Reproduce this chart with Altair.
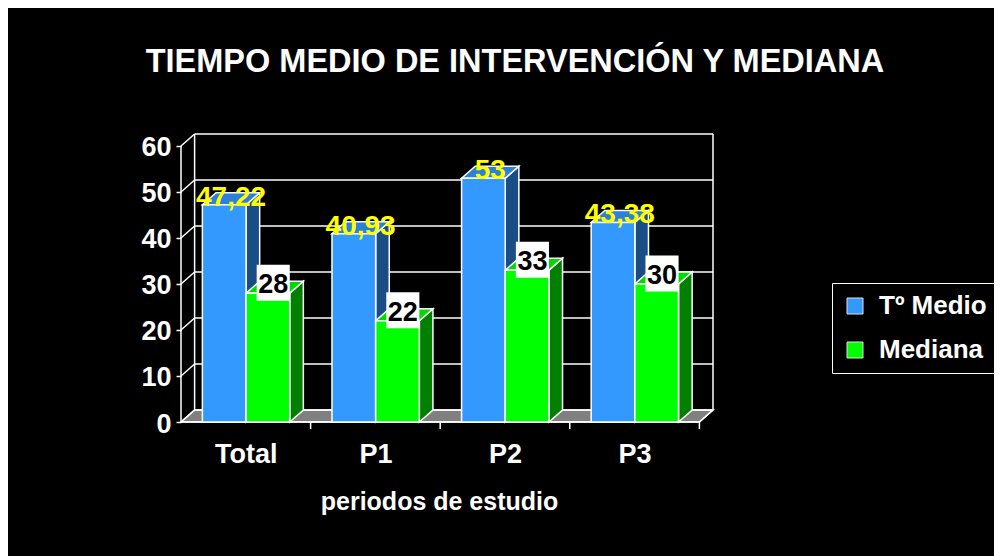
import altair as alt
import pandas as pd

# ---------------- data ----------------
CATS = ["Total", "P1", "P2", "P3"]
SERIES = ["Tº Medio", "Mediana"]
T_MEDIO = [47.22, 40.93, 53, 43.38]
MEDIANA = [28, 22, 33, 30]
Y_TICKS = [0, 10, 20, 30, 40, 50, 60]

TITLE = "TIEMPO MEDIO DE INTERVENCIÓN Y MEDIANA"
X_TITLE = "periodos de estudio"

# ---------------- styling / geometry ----------------
FONT = "Liberation Sans"
DX = 0.105      # 3D depth along x (category units)
DY = 2.6        # 3D depth along y (value units)
BAR_W = 0.337
GROUP_START = 0.165
N = len(CATS)
YTOP = max(Y_TICKS)
YMAX = YTOP + DY
XMAX = N + DX

FRONT = ["#3399FF", "#00FF00"]
TOP = ["#2C80D8", "#00DA00"]
SIDE = ["#1A4C85", "#007F00"]
FLOOR = "#808080"


def fmt(v):
    return f"{v:g}".replace(".", ",")


# ---------------- derived tables ----------------
fronts, sides, tops, blue_lbl, green_lbl = [], [], [], [], []
for s, vals in enumerate([T_MEDIO, MEDIANA]):
    for i, v in enumerate(vals):
        x0 = i + GROUP_START + s * BAR_W
        x1 = x0 + BAR_W
        fronts.append({"x": x0, "x2": x1, "y": 0, "y2": v, "series": SERIES[s]})
        pid = f"{s}-{i}"
        sides += [
            {"pid": pid, "x": x1, "y": 0, "y2": v, "fill": SIDE[s]},
            {"pid": pid, "x": x1 + DX, "y": DY, "y2": v + DY, "fill": SIDE[s]},
        ]
        tops += [
            {"pid": pid, "x": x0, "y": v, "y2": v, "fill": TOP[s]},
            {"pid": pid, "x": x0 + DX, "y": v, "y2": v + DY, "fill": TOP[s]},
            {"pid": pid, "x": x1, "y": v, "y2": v + DY, "fill": TOP[s]},
            {"pid": pid, "x": x1 + DX, "y": v + DY, "y2": v + DY, "fill": TOP[s]},
        ]
        if s == 0:
            blue_lbl.append({"x": (x0 + x1 + DX) / 2, "y": v, "label": fmt(v)})
        else:
            green_lbl.append({"x": x1, "y": v, "label": fmt(v)})

floor = [
    {"x": 0, "y": 0, "y2": 0},
    {"x": DX, "y": 0, "y2": DY},
    {"x": N, "y": 0, "y2": DY},
    {"x": XMAX, "y": DY, "y2": DY},
]

rules = [{"x": 0, "x2": 0, "y": 0, "y2": YTOP},
         {"x": DX, "x2": DX, "y": DY, "y2": YMAX},
         {"x": XMAX, "x2": XMAX, "y": DY, "y2": YMAX},
         {"x": 0, "x2": N, "y": 0, "y2": 0},
         {"x": N, "x2": XMAX, "y": 0, "y2": DY}]
for t in Y_TICKS:
    rules.append({"x": 0, "x2": DX, "y": t, "y2": t + DY})
    rules.append({"x": DX, "x2": XMAX, "y": t + DY, "y2": t + DY})

xticks = [{"x": i + 1, "y": 0} for i in range(N)]

# ---------------- scales / axes ----------------
XS = alt.Scale(domain=[0, XMAX], nice=False, zero=False)
YS = alt.Scale(domain=[0, YMAX], nice=False, zero=False)

labels_js = "[" + ",".join(f"'{c}'" for c in CATS) + "]"
XAXIS = alt.Axis(values=[i + 0.5 for i in range(N)],
                 labelExpr=f"{labels_js}[floor(datum.value)]",
                 ticks=False, tickSize=0, domain=False, grid=False,
                 labelFont=FONT, labelFontSize=27, labelFontWeight="bold",
                 labelColor="white", labelPadding=19,
                 title=X_TITLE, titleFont=FONT, titleFontSize=25,
                 titleFontWeight="bold", titleColor="white",
                 titleX=258, titleY=87, titleAlign="center",
                 titleBaseline="alphabetic")
YAXIS = alt.Axis(values=Y_TICKS, tickSize=5, tickColor="white", tickWidth=1.5,
                 domain=False, grid=False, labelPadding=5,
                 labelFont=FONT, labelFontSize=27, labelFontWeight="bold",
                 labelColor="white", labelOffset=2, title="")


def X(f):
    return alt.X(f"{f}:Q", scale=XS, axis=XAXIS)


def Y(f):
    return alt.Y(f"{f}:Q", scale=YS, axis=YAXIS, stack=False)


LEG = alt.Legend(title=None, orient="none", legendX=651, legendY=149,
                 direction="vertical", labelColor="white", labelFont=FONT,
                 labelFontSize=26, labelFontWeight="bold", symbolType="square",
                 symbolSize=256, symbolStrokeColor="#E0E0E0",
                 symbolStrokeWidth=1, symbolOpacity=1, labelOffset=11,
                 rowPadding=18, padding=10, strokeColor="white",
                 fillColor="black")

# ---------------- layers ----------------
floor_l = alt.Chart(pd.DataFrame(floor)).mark_area(
    orient="vertical", fill=FLOOR, stroke="white", strokeWidth=1.5
).encode(x=X("x"), y=Y("y"), y2=alt.Y2("y2"))

rules_l = alt.Chart(pd.DataFrame(rules)).mark_rule(
    color="white", strokeWidth=1.5
).encode(x=X("x"), x2=alt.X2("x2"), y=Y("y"), y2=alt.Y2("y2"))

ticks_l = alt.Chart(pd.DataFrame(xticks)).mark_tick(
    orient="vertical", size=7, thickness=1.5, yOffset=3.5, color="white", opacity=1
).encode(x=X("x"), y=Y("y"))

sides_l = alt.Chart(pd.DataFrame(sides)).mark_area(
    orient="vertical", stroke="white", strokeWidth=1.5, opacity=1
).encode(x=X("x"), y=Y("y"), y2=alt.Y2("y2"), detail="pid:N",
         fill=alt.Fill("fill:N", scale=None))

tops_l = alt.Chart(pd.DataFrame(tops)).mark_area(
    orient="vertical", stroke="white", strokeWidth=1.5, opacity=1
).encode(x=X("x"), y=Y("y"), y2=alt.Y2("y2"), detail="pid:N",
         fill=alt.Fill("fill:N", scale=None))

fronts_l = alt.Chart(pd.DataFrame(fronts)).mark_rect(
    stroke="white", strokeWidth=1.5, opacity=1
).encode(x=X("x"), x2=alt.X2("x2"), y=Y("y"), y2=alt.Y2("y2"),
         color=alt.Color("series:N", sort=SERIES,
                         scale=alt.Scale(domain=SERIES, range=FRONT),
                         legend=LEG))

blue_txt = alt.Chart(pd.DataFrame(blue_lbl)).mark_text(
    font=FONT, fontSize=28, fontWeight="bold", color="#FFFF00",
    align="center", baseline="alphabetic", dy=1
).encode(x=X("x"), y=Y("y"), text="label:N")

box_l = alt.Chart(pd.DataFrame(green_lbl)).mark_point(
    shape="M-0.92,-1L0.92,-1L0.92,1L-0.92,1Z", size=1296, filled=True,
    fill="white", opacity=1, strokeWidth=0, xOffset=-16.5, yOffset=-10.5
).encode(x=X("x"), y=Y("y"))

green_txt = alt.Chart(pd.DataFrame(green_lbl)).mark_text(
    font=FONT, fontSize=27, fontWeight="bold", color="black",
    align="center", baseline="alphabetic", dx=-16.5, dy=0
).encode(x=X("x"), y=Y("y"), text="label:N")

chart = alt.layer(
    floor_l, rules_l, ticks_l, sides_l, tops_l, fronts_l, blue_txt, box_l, green_txt
).properties(
    width=532, height=288,
    title=alt.Title(TITLE, fontSize=32.5, font=FONT, fontWeight="bold",
                    color="white", anchor="middle", dx=68, offset=29,
                    baseline="alphabetic", frame="group"),
    padding={"left": 173, "top": 126, "right": 281, "bottom": 134},
    autosize=alt.AutoSizeParams(type="none"),
).configure(background="#000000").configure_view(strokeWidth=0)

chart.save("out.html", embed_options={"renderer": "svg", "actions": False})
